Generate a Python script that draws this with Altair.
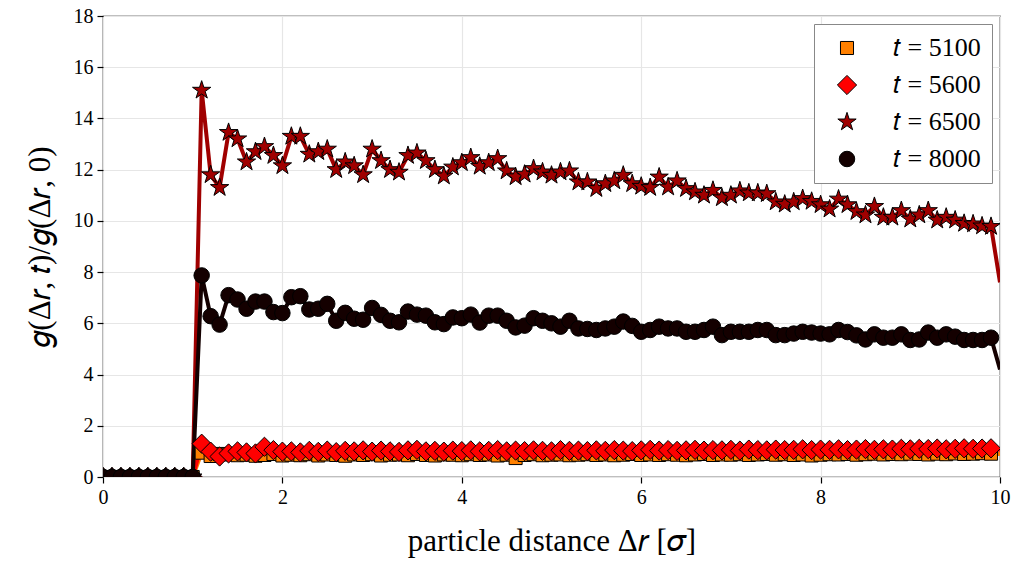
import altair as alt
import pandas as pd

x_vals = [i / 10 for i in range(101)]

times = ["5100", "5600", "6500", "8000"]
series_labels = ["𝑡 = 5100", "𝑡 = 5600", "𝑡 = 6500", "𝑡 = 8000"]
series_colors = ["#ff8000", "#ff0000", "#a00000", "#140000"]

zeros = [0.0] * 11  # x = 0.0 ... 1.0

g5100 = zeros + [
    0.95, 0.82, 0.90, 0.88, 0.85, 0.87, 0.83, 0.86, 0.90, 0.84,
    0.87, 0.85, 0.89, 0.84, 0.88, 0.86, 0.83, 0.88, 0.86, 0.89,
    0.84, 0.87, 0.88, 0.85, 0.90, 0.86, 0.84, 0.88, 0.87, 0.85,
    0.89, 0.86, 0.88, 0.84, 0.87, 0.74, 0.86, 0.89, 0.85, 0.87,
    0.88, 0.85, 0.87, 0.89, 0.86, 0.88, 0.85, 0.87, 0.90, 0.86,
    0.88, 0.86, 0.89, 0.87, 0.85, 0.88, 0.90, 0.86, 0.88, 0.87,
    0.89, 0.86, 0.88, 0.90, 0.87, 0.89, 0.86, 0.88, 0.84, 0.87,
    0.89, 0.88, 0.90, 0.87, 0.89, 0.91, 0.88, 0.90, 0.89, 0.91,
    0.90, 0.88, 0.91, 0.89, 0.92, 0.90, 0.91, 0.93, 0.91, 0.90,
]

g5600 = zeros + [
    1.30, 0.99, 0.80, 0.92, 1.00, 0.96, 0.92, 1.18, 1.05, 0.99,
    1.00, 0.96, 1.02, 0.98, 1.03, 0.97, 1.02, 1.00, 1.04, 0.99,
    1.03, 1.00, 0.98, 1.04, 1.06, 1.00, 1.02, 0.99, 1.03, 1.01,
    1.04, 1.00, 1.02, 1.05, 1.00, 1.03, 1.01, 1.04, 1.02, 1.00,
    1.05, 1.02, 1.03, 1.01, 1.04, 1.02, 1.05, 1.03, 1.01, 1.04,
    1.06, 1.03, 1.05, 1.02, 1.04, 1.06, 1.03, 1.05, 1.04, 1.06,
    1.03, 1.07, 1.05, 1.04, 1.07, 1.05, 1.06, 1.08, 1.05, 1.07,
    1.06, 1.08, 1.05, 1.07, 1.09, 1.06, 1.08, 1.07, 1.10, 1.08,
    1.10, 1.09, 1.11, 1.08, 1.10, 1.12, 1.10, 1.11, 1.12, 1.05,
]

g6500 = zeros + [
    15.10, 11.80, 11.30, 13.45, 13.20, 12.30, 12.70, 12.90, 12.55, 12.15,
    13.30, 13.30, 12.60, 12.70, 12.80, 12.00, 12.30, 12.15, 11.80, 12.80,
    12.35, 12.00, 11.90, 12.55, 12.65, 12.35, 12.00, 11.75, 12.10, 12.27,
    12.47, 12.13, 12.27, 12.43, 11.95, 11.72, 11.82, 12.04, 11.91, 11.78,
    11.91, 11.95, 11.52, 11.52, 11.26, 11.45, 11.56, 11.78, 11.45, 11.35,
    11.30, 11.71, 11.32, 11.56, 11.26, 11.13, 11.00, 11.19, 10.90, 11.00,
    11.17, 11.09, 11.09, 11.06, 10.74, 10.65, 10.74, 10.87, 10.76, 10.63,
    10.46, 10.85, 10.63, 10.36, 10.23, 10.56, 10.14, 10.14, 10.40, 10.07,
    10.23, 10.40, 10.03, 10.14, 10.03, 9.90, 9.88, 9.80, 9.78, 7.60,
]

g8000 = zeros + [
    7.87, 6.28, 5.95, 7.10, 6.93, 6.57, 6.85, 6.85, 6.44, 6.40,
    7.02, 7.06, 6.54, 6.57, 6.76, 6.10, 6.41, 6.18, 6.14, 6.60,
    6.33, 6.10, 6.04, 6.46, 6.34, 6.30, 6.04, 5.97, 6.23, 6.20,
    6.34, 6.03, 6.30, 6.30, 6.10, 5.84, 5.91, 6.20, 6.10, 6.00,
    5.87, 6.10, 5.80, 5.78, 5.74, 5.80, 5.87, 6.07, 5.90, 5.67,
    5.74, 5.87, 5.80, 5.80, 5.67, 5.67, 5.74, 5.87, 5.54, 5.67,
    5.67, 5.67, 5.74, 5.74, 5.54, 5.54, 5.60, 5.67, 5.64, 5.60,
    5.57, 5.74, 5.66, 5.53, 5.37, 5.57, 5.44, 5.44, 5.57, 5.35,
    5.37, 5.64, 5.44, 5.57, 5.48, 5.35, 5.35, 5.35, 5.44, 4.20,
]

all_series = [g5100, g5600, g6500, g8000]

star_path = ("M0,-1L0.2245,-0.309L0.9511,-0.309L0.3633,0.118L0.5878,0.809"
             "L0,0.382L-0.5878,0.809L-0.3633,0.118L-0.9511,-0.309L-0.2245,-0.309Z")
shapes = ["square", "diamond", star_path, "circle"]
marker_sizes = [170, 370, 370, 240]

rows = []
for tm, label, vals in zip(times, series_labels, all_series):
    for xv, yv in zip(x_vals, vals):
        rows.append({"x": xv, "y": yv, "series": label, "time": tm})
df = pd.DataFrame(rows)

FONT = "Liberation Serif"

xenc = alt.X("x:Q", scale=alt.Scale(domain=[0, 10], nice=False),
             axis=alt.Axis(values=[0, 2, 4, 6, 8, 10], title="particle distance Δ𝑟 [𝜎]"))
yenc = alt.Y("y:Q", scale=alt.Scale(domain=[0, 18], nice=False),
             axis=alt.Axis(values=list(range(0, 19, 2)), title="𝑔(Δ𝑟, 𝑡)/𝑔(Δ𝑟, 0)"))

# lines use their own scale (different domain), so their disabled legend is not merged
lines = alt.Chart(df).mark_line(strokeWidth=4, clip=True).encode(
    x=xenc, y=yenc,
    stroke=alt.Stroke("time:N", scale=alt.Scale(domain=times, range=series_colors),
                      legend=None),
    detail="time:N",
)

legend = alt.Legend(
    title=None, orient="top-right", offset=8,
    symbolStrokeColor="black", symbolStrokeWidth=1,
    fillColor="white", strokeColor="#888888",
    padding=11, rowPadding=11, labelFont=FONT, labelFontSize=26, labelColor="black",
    labelOffset=33, symbolOffset=9, cornerRadius=0,
)

points = alt.Chart(df).transform_filter("datum.x < 9.95").mark_point(
    filled=True, stroke="black", strokeWidth=1, opacity=1, clip=True
).encode(
    x=xenc, y=yenc,
    color=alt.Color("series:N", scale=alt.Scale(domain=series_labels, range=series_colors),
                    legend=legend),
    shape=alt.Shape("series:N", scale=alt.Scale(domain=series_labels, range=shapes),
                    legend=legend),
    size=alt.Size("series:N",
                  scale=alt.Scale(type="ordinal", domain=series_labels, range=marker_sizes),
                  legend=legend),
)

chart = alt.layer(lines, points).properties(
    width=897, height=461,
    autosize=alt.AutoSizeParams(type="none"),
    padding={"left": 95, "top": 8, "right": 11, "bottom": 82},
).configure_view(
    stroke="black", strokeWidth=1.2
).configure_axis(
    domain=False,
    grid=True, gridColor="#e6e6e6", gridWidth=1.2,
    tickColor="black", tickSize=6, tickWidth=1.2,
    labelFont=FONT, labelFontSize=20, labelColor="black", labelPadding=4,
    titleFont=FONT, titleFontSize=31, titleFontWeight="normal", titleColor="black",
).configure_axisX(
    titlePadding=19, labelFlush=False,
).configure_axisY(
    titlePadding=17,
)

chart.save("out.html", embed_options={"renderer": "svg", "actions": False})
